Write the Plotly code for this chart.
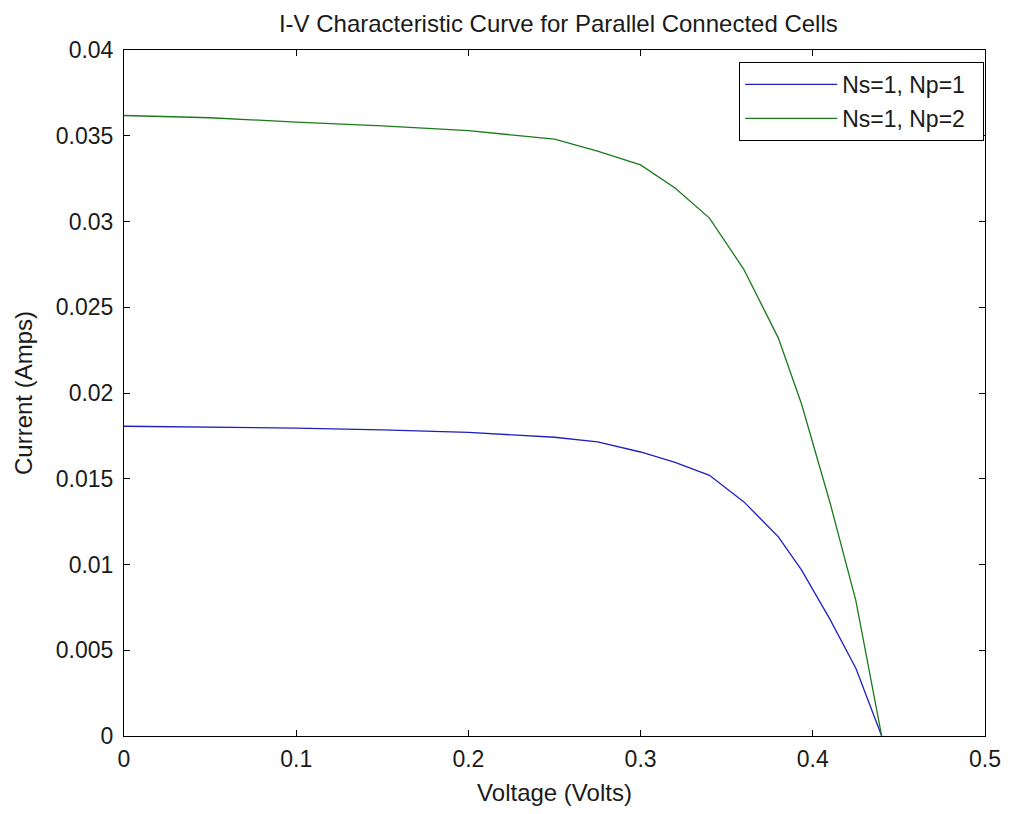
import plotly.graph_objects as go

# ---- data ----
voltage = [0.0, 0.05, 0.1, 0.15, 0.2, 0.25, 0.275, 0.3, 0.32, 0.34, 0.36, 0.38, 0.3935, 0.41, 0.425, 0.44]
current_np1 = [0.01806, 0.01802, 0.01795, 0.01785, 0.01770, 0.01742, 0.01715, 0.01656, 0.01595,
               0.01520, 0.01365, 0.01161, 0.00967, 0.00680, 0.00395, 0.0]
current_np2 = [0.03618, 0.03605, 0.03580, 0.03558, 0.03530, 0.03480, 0.03410, 0.03330, 0.03195,
               0.03020, 0.02720, 0.02320, 0.01934, 0.01360, 0.00790, 0.0]
series_names = ["Ns=1, Np=1", "Ns=1, Np=2"]

x_ticks = [0, 0.1, 0.2, 0.3, 0.4, 0.5]
x_tick_labels = ["0", "0.1", "0.2", "0.3", "0.4", "0.5"]
y_ticks = [0, 0.005, 0.01, 0.015, 0.02, 0.025, 0.03, 0.035, 0.04]
y_tick_labels = ["0", "0.005", "0.01", "0.015", "0.02", "0.025", "0.03", "0.035", "0.04"]

FONT = "Liberation Sans, Arial, sans-serif"
TXT = "#1a1a1a"
PAD = "\u00a0\u00a0"  # right padding inside the legend box

fig = go.Figure()
fig.add_trace(go.Scatter(x=voltage, y=current_np1, mode="lines", name=series_names[0] + PAD,
                         line=dict(color="#2020c0", width=1.3), legendgroup="a"))
fig.add_trace(go.Scatter(x=voltage, y=current_np2, mode="lines", name=series_names[1] + PAD,
                         line=dict(color="#1a7a1a", width=1.3), legendgroup="b"))

axis_common = dict(showline=True, linecolor="black", linewidth=1, mirror="ticks",
                   ticks="inside", ticklen=6, tickcolor="black", tickwidth=1,
                   showgrid=False, zeroline=False,
                   tickfont=dict(family=FONT, size=23, color=TXT))

fig.update_layout(
    width=1013, height=814,
    paper_bgcolor="white", plot_bgcolor="white",
    margin=dict(l=124, r=21, t=50, b=78),
    font=dict(family=FONT, size=23, color=TXT),
    title=dict(text="I-V Characteristic Curve for Parallel Connected Cells",
               x=0.5512, xanchor="center", y=1 - 24 / 814, yanchor="middle",
               font=dict(family=FONT, size=24, color=TXT)),
    xaxis=dict(range=[0, 0.5], tickvals=x_ticks, ticktext=x_tick_labels,
               ticklabelstandoff=2,
               title=dict(text="Voltage (Volts)", standoff=13,
                          font=dict(family=FONT, size=24, color=TXT)),
               **axis_common),
    yaxis=dict(range=[0, 0.04], tickvals=y_ticks, ticktext=y_tick_labels,
               ticklabelstandoff=5,
               title=dict(text="Current (Amps)", standoff=16,
                          font=dict(family=FONT, size=24, color=TXT)),
               **axis_common),
    showlegend=True,
    legend=dict(x=0.999, xanchor="right", y=0.9825, yanchor="top",
                bordercolor="black", borderwidth=1, bgcolor="white",
                font=dict(family=FONT, size=23, color=TXT),
                tracegroupgap=1, itemwidth=92),
)

fig.write_html("out.html")
